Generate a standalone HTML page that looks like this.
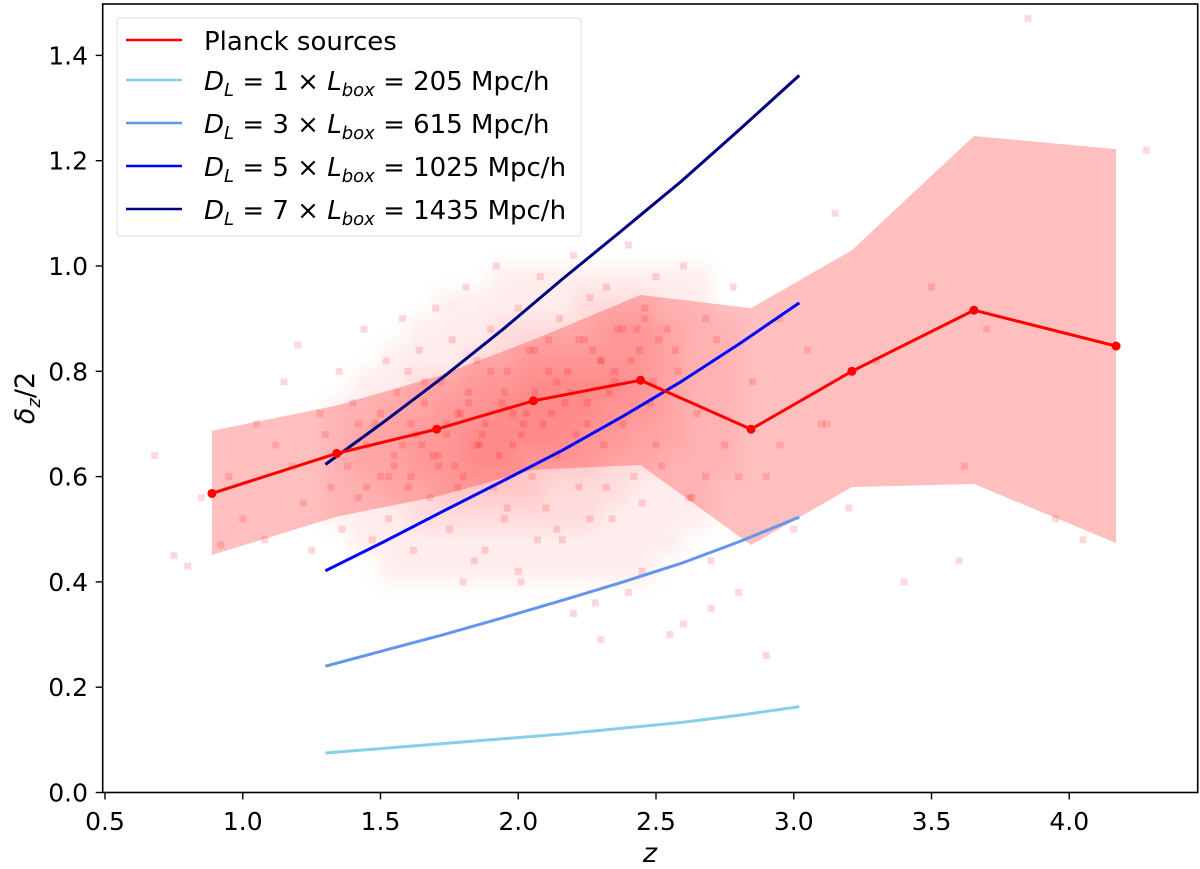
<!DOCTYPE html>
<html><head><meta charset="utf-8">
<style>
html,body{margin:0;padding:0;background:#fff;}
svg{display:block;font-family:"DejaVu Sans","Liberation Sans",sans-serif;}
</style></head>
<body>
<svg id="chart" width="1200" height="869" viewBox="0 0 1200 869" xmlns="http://www.w3.org/2000/svg">
<defs><filter id="blur" x="-20%" y="-20%" width="140%" height="140%"><feGaussianBlur stdDeviation="9"/></filter></defs>
<g id="band"></g>
<g id="haze" filter="url(#blur)"></g>
<g id="scatter"></g>
<g id="models"></g>
<g id="planck"></g>
<rect x="102.7" y="4" width="1095" height="788.5" fill="none" stroke="#000" stroke-width="1.6"/>
<g id="axes"></g>
<text x="650" y="862" font-size="27" font-style="italic" text-anchor="middle">z</text>
<text transform="translate(34,398) rotate(-90)" font-size="27" text-anchor="middle"><tspan font-style="italic">δ</tspan><tspan font-style="italic" font-size="18" dy="6">z</tspan><tspan dy="-6">/2</tspan></text>
<g font-size="26">
<rect x="117" y="18" width="464" height="218" rx="3" fill="#fff" fill-opacity="0.85" stroke="#ddd" stroke-width="1"/>
<g><line x1="126" y1="40" x2="182" y2="40" stroke="#ff0000" stroke-width="2.5"/><text x="204" y="50">Planck sources</text></g>
<g><line x1="126" y1="80" x2="182" y2="80" stroke="#87ceeb" stroke-width="2.5"/><text x="204" y="90"><tspan font-style="italic">D</tspan><tspan font-style="italic" font-size="18" dy="6">L</tspan><tspan dy="-6"> = 1 × </tspan><tspan font-style="italic">L</tspan><tspan font-style="italic" font-size="18" dy="6">box</tspan><tspan dy="-6"> = 205  Mpc/h</tspan></text></g>
<g><line x1="126" y1="123" x2="182" y2="123" stroke="#6495ed" stroke-width="2.5"/><text x="204" y="133"><tspan font-style="italic">D</tspan><tspan font-style="italic" font-size="18" dy="6">L</tspan><tspan dy="-6"> = 3 × </tspan><tspan font-style="italic">L</tspan><tspan font-style="italic" font-size="18" dy="6">box</tspan><tspan dy="-6"> = 615  Mpc/h</tspan></text></g>
<g><line x1="126" y1="166" x2="182" y2="166" stroke="#0000ff" stroke-width="2.5"/><text x="204" y="176"><tspan font-style="italic">D</tspan><tspan font-style="italic" font-size="18" dy="6">L</tspan><tspan dy="-6"> = 5 × </tspan><tspan font-style="italic">L</tspan><tspan font-style="italic" font-size="18" dy="6">box</tspan><tspan dy="-6"> = 1025  Mpc/h</tspan></text></g>
<g><line x1="126" y1="209" x2="182" y2="209" stroke="#000080" stroke-width="2.5"/><text x="204" y="219"><tspan font-style="italic">D</tspan><tspan font-style="italic" font-size="18" dy="6">L</tspan><tspan dy="-6"> = 7 × </tspan><tspan font-style="italic">L</tspan><tspan font-style="italic" font-size="18" dy="6">box</tspan><tspan dy="-6"> = 1435  Mpc/h</tspan></text></g>
</g>
</svg>
<script>
const xTicks=[0.5,1.0,1.5,2.0,2.5,3.0,3.5,4.0];
const yTicks=[0.0,0.2,0.4,0.6,0.8,1.0,1.2,1.4];
const planckZ=[0.888,1.341,1.704,2.055,2.444,2.845,3.211,3.654,4.17];
const planckMed=[0.568,0.644,0.690,0.744,0.783,0.690,0.800,0.916,0.848];
const planckUp=[0.687,0.735,0.790,0.860,0.945,0.920,1.030,1.247,1.222];
const planckLo=[0.451,0.524,0.562,0.613,0.622,0.470,0.580,0.586,0.474];
const modelZ=[1.30,1.515,1.73,1.945,2.16,2.375,2.59,2.805,3.02];
const modelDL1=[0.075,0.084,0.093,0.102,0.111,0.122,0.133,0.147,0.163];
const modelDL3=[0.240,0.270,0.300,0.332,0.365,0.399,0.435,0.477,0.523];
const modelDL5=[0.421,0.477,0.535,0.592,0.650,0.713,0.780,0.853,0.930];
const modelDL7=[0.623,0.705,0.790,0.880,0.975,1.067,1.160,1.260,1.362];
const hazeZ=[1.35,1.45,1.55,1.65,1.75,1.85,1.95,2.05,2.15,2.25,2.35,2.45,2.55,2.65,2.75,2.85];
const hazeD=[0.975,0.925,0.875,0.825,0.775,0.725,0.675,0.625,0.575,0.525,0.475,0.425];
const hazeCount=[
[0,0,0,0,0,0,1,1,1,1,1,1,1,1,0,0],
[0,0,0,0,1,1,1,1,1,2,2,2,1,1,0,0],
[0,0,0,1,1,1,2,2,2,2,3,3,2,1,1,0],
[0,0,1,1,1,2,2,3,3,3,3,3,2,1,1,0],
[0,1,1,2,2,3,3,4,4,4,4,3,2,1,1,0],
[1,1,2,2,3,3,4,4,4,4,3,3,2,1,1,0],
[1,2,2,3,3,4,4,4,4,3,3,2,2,1,1,0],
[1,2,2,3,3,4,4,3,3,3,2,2,1,1,1,0],
[1,1,2,2,3,3,3,3,2,2,2,1,1,1,0,0],
[1,1,1,2,2,2,2,2,2,2,1,1,1,1,0,0],
[0,1,1,1,1,1,1,1,1,1,1,1,1,0,0,0],
[0,0,1,1,1,1,1,1,1,1,1,1,0,0,0,0]];
const scatterZ=[0.68,0.75,0.80,0.85,0.92,0.95,1.00,1.05,1.08,1.12,1.15,1.18,1.20,1.22,1.25,1.28,1.30,1.32,1.35,1.36,1.38,1.40,1.42,1.44,1.45,1.47,1.48,1.50,1.52,1.53,1.55,1.56,1.58,1.60,1.61,1.62,1.64,1.65,1.66,1.68,1.70,1.71,1.72,1.74,1.75,1.76,1.78,1.80,1.81,1.82,1.84,1.85,1.86,1.88,1.90,1.91,1.92,1.94,1.95,1.96,1.98,2.00,2.01,2.02,2.04,2.05,2.06,2.08,2.10,2.11,2.12,2.14,2.15,2.16,2.18,2.20,2.21,2.22,2.24,2.25,2.26,2.28,2.30,2.31,2.32,2.34,2.35,2.36,2.38,2.40,2.42,2.44,2.45,2.46,2.48,2.50,2.52,2.54,2.55,2.58,2.60,2.62,2.65,2.68,2.70,2.72,2.75,2.78,2.80,2.85,2.90,2.95,3.00,3.05,3.10,3.15,3.20,3.30,3.40,3.50,3.60,3.62,3.70,3.85,3.95,4.05,4.28,1.50,1.58,1.66,1.74,1.82,1.90,1.98,2.06,2.14,2.22,2.30,2.38,2.46,1.55,1.63,1.71,1.79,1.87,1.95,2.03,2.11,2.19,2.27,2.35,2.43,2.51,1.45,1.53,1.61,1.69,1.77,1.85,1.93,2.01,2.09,2.17,2.25,2.33,2.41,2.49,2.57,1.42,1.60,1.78,1.96,2.14,2.32,2.50,2.68,1.88,2.07,2.26,2.45,2.63,2.80,2.95,3.12,2.2,2.4,2.6,2.9,2.0,1.8,2.3,2.7];
const scatterD=[0.64,0.45,0.43,0.56,0.47,0.60,0.52,0.70,0.48,0.66,0.78,0.62,0.85,0.55,0.46,0.72,0.68,0.58,0.80,0.50,0.62,0.74,0.56,0.88,0.66,0.48,0.70,0.60,0.82,0.52,0.64,0.76,0.90,0.58,0.70,0.46,0.84,0.66,0.74,0.56,0.92,0.62,0.78,0.68,0.50,0.86,0.72,0.60,0.96,0.76,0.44,0.82,0.66,0.70,0.88,0.58,1.00,0.74,0.52,0.80,0.66,0.92,0.40,0.70,0.84,0.60,0.76,0.98,0.54,0.86,0.72,0.64,0.90,0.48,0.80,1.02,0.68,0.58,0.86,0.74,0.94,0.36,0.82,0.66,0.96,0.52,0.78,0.88,0.70,1.04,0.60,0.84,0.42,0.92,0.74,0.98,0.62,0.88,0.30,0.80,1.00,0.56,0.72,0.90,0.44,0.86,0.66,0.96,0.38,0.78,0.60,0.90,0.50,0.84,0.70,1.10,0.54,0.82,0.40,0.96,0.44,0.62,0.88,1.47,0.52,0.48,1.22,0.72,0.66,0.78,0.70,0.74,0.80,0.72,0.84,0.78,0.86,0.82,0.88,0.90,0.62,0.68,0.64,0.72,0.68,0.76,0.72,0.80,0.76,0.84,0.80,0.88,0.86,0.58,0.60,0.60,0.64,0.62,0.66,0.64,0.68,0.70,0.74,0.70,0.76,0.82,0.78,0.84,0.70,0.80,0.58,0.54,0.50,0.58,0.66,0.60,0.46,0.48,0.52,0.55,0.56,0.60,0.66,0.70,0.34,0.38,0.32,0.26,0.42,0.40,0.29,0.35];
const NS='http://www.w3.org/2000/svg';
function xs(v){return 105+(v-0.5)*275.5;}
function ys(v){return 792.5-v*526.5;}
function mk(t,a,p){const e=document.createElementNS(NS,t);for(const k in a)e.setAttribute(k,a[k]);p.appendChild(e);return e;}
const band=document.getElementById('band');
let pts=planckZ.map((z,i)=>xs(z)+','+ys(planckUp[i]));
for(let i=planckZ.length-1;i>=0;i--)pts.push(xs(planckZ[i])+','+ys(planckLo[i]));
const bp=mk('polygon',{points:pts.join(' '),fill:'#ff0000','fill-opacity':'0.25'},band);


const hz=document.getElementById('haze');
const cw=0.1*275.5, ch=0.05*526.5;
hazeD.forEach((d,r)=>hazeZ.forEach((z,c)=>{
  const n=hazeCount[r][c]; if(!n) return;
  const e=mk('rect',{x:xs(z)-cw/2,y:ys(d)-ch/2,width:cw,height:ch,fill:'#ff0000','fill-opacity':(n*0.07).toFixed(2)},hz);
  
  
}));
const sc=document.getElementById('scatter');
scatterZ.forEach((z,i)=>{
  const r=mk('rect',{x:xs(z)-3.5,y:ys(scatterD[i])-3.5,width:7,height:7,fill:'#ff0000','fill-opacity':'0.15'},sc);
  
  
});
const mg=document.getElementById('models');
[[modelDL1,'#87ceeb','model-line-dl1'],[modelDL3,'#6495ed','model-line-dl3'],[modelDL5,'#0000ff','model-line-dl5'],[modelDL7,'#000080','model-line-dl7']].forEach(m=>{
  const p=mk('polyline',{points:modelZ.map((z,i)=>xs(z)+','+ys(m[0][i])).join(' '),fill:'none',stroke:m[1],'stroke-width':'3','stroke-linejoin':'round'},mg);
  
  
});
const pg=document.getElementById('planck');
const pl=mk('polyline',{points:planckZ.map((z,i)=>xs(z)+','+ys(planckMed[i])).join(' '),fill:'none',stroke:'#ff0000','stroke-width':'3'},pg);


planckZ.forEach((z,i)=>{
  const c=mk('circle',{cx:xs(z),cy:ys(planckMed[i]),r:4.5,fill:'#ff0000'},pg);
  
  
});
const ax=document.getElementById('axes');
xTicks.forEach(v=>{
  const t=mk('line',{x1:xs(v),y1:792.5,x2:xs(v),y2:799.5,stroke:'#000','stroke-width':'1.4'},ax);
  
  
  const l=mk('text',{x:xs(v),y:830,'font-size':'25','text-anchor':'middle'},ax);
  l.textContent=v.toFixed(1);
  
  
});
yTicks.forEach(v=>{
  const t=mk('line',{x1:95.7,y1:ys(v),x2:102.7,y2:ys(v),stroke:'#000','stroke-width':'1.4'},ax);
  
  
  const l=mk('text',{x:88,y:ys(v)+9,'font-size':'25','text-anchor':'end'},ax);
  l.textContent=v.toFixed(1);
  
  
});
</script>
</body></html>
